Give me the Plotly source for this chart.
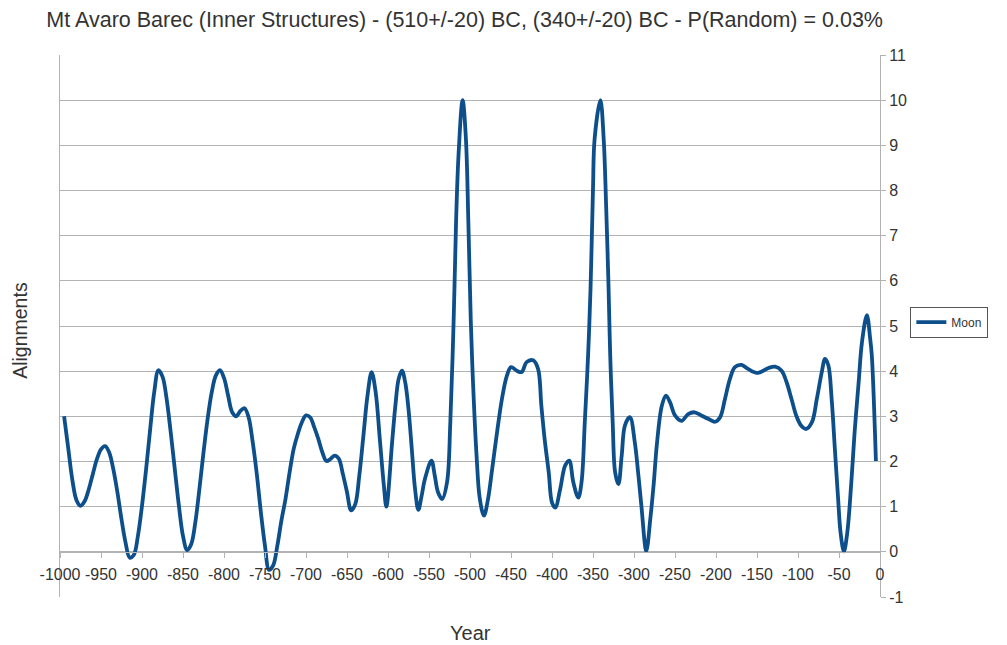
import plotly.graph_objects as go

# Moon alignments per year (BC as negative years)
years = [
    -995, -990, -985, -980, -975, -970, -965, -960, -955, -950,
    -945, -940, -935, -930, -925, -920, -915, -910, -905, -900,
    -895, -890, -885, -880, -875, -870, -865, -860, -855, -850,
    -845, -840, -835, -830, -825, -820, -815, -810, -805, -800,
    -795, -790, -785, -780, -775, -770, -765, -760, -755, -750,
    -745, -740, -735, -730, -725, -720, -715, -710, -705, -700,
    -695, -690, -685, -680, -675, -670, -665, -660, -655, -650,
    -645, -640, -635, -630, -625, -620, -615, -610, -605, -602,
    -595, -591, -587, -583, -579, -575, -571, -567, -563, -559,
    -555, -547, -543, -539, -534, -528, -524, -520, -517, -514,
    -509, -505, -502, -499, -496, -492, -488, -483, -478, -473,
    -467, -461, -455, -450, -443, -437, -431, -423, -417, -413,
    -409, -404, -400, -396, -390, -384, -379, -374, -368, -364,
    -360, -356, -353, -350, -348, -341, -337, -334, -331, -329,
    -326, -323, -319, -315, -311, -305, -299, -295, -291, -285,
    -280, -276, -272, -266, -261, -256, -250, -242, -234, -226,
    -218, -209, -201, -195, -189, -183, -177, -169, -161, -149,
    -136, -128, -120, -114, -108, -102, -96, -90, -83, -77,
    -71, -67, -63, -59, -55, -51, -48, -44, -40, -35,
    -31, -26, -22, -16, -12, -10, -5,
]
moon = [
    3.0, 2.3, 1.6, 1.15, 1.02, 1.12, 1.38, 1.72, 2.05, 2.27,
    2.34, 2.2, 1.83, 1.32, 0.72, 0.2, -0.13, -0.07, 0.35, 1.02,
    1.83, 2.72, 3.55, 4.02, 3.88, 3.39, 2.65, 1.83, 1.02, 0.35,
    0.04, 0.17, 0.65, 1.39, 2.2, 2.94, 3.53, 3.9, 4.02, 3.85,
    3.46, 3.09, 3.0, 3.12, 3.18, 2.98, 2.43, 1.72, 0.87, 0.13,
    -0.4, -0.3, 0.13, 0.69, 1.17, 1.76, 2.28, 2.61, 2.87, 3.02,
    2.98, 2.76, 2.5, 2.2, 2.01, 2.06, 2.13, 2.06, 1.72, 1.32,
    0.92, 1.05, 1.69, 2.57, 3.46, 3.98, 3.53, 2.5, 1.46, 1.0,
    2.42, 3.24, 3.83, 4.01, 3.75, 3.16, 2.28, 1.39, 0.93, 1.24,
    1.61, 2.02, 1.69, 1.32, 1.17, 1.54, 2.87, 5.09, 7.3, 8.78,
    10.0, 9.15, 7.3, 5.09, 3.61, 2.13, 1.17, 0.8, 1.17, 1.83,
    2.65, 3.39, 3.9, 4.09, 4.01, 3.98, 4.2, 4.24, 4.05, 3.24,
    2.5, 1.76, 1.09, 0.98, 1.39, 1.91, 2.02, 1.54, 1.2, 1.54,
    2.87, 4.35, 5.83, 8.04, 9.15, 10.0, 9.15, 7.67, 5.83, 4.35,
    2.87, 1.76, 1.5, 2.13, 2.8, 2.98, 2.42, 1.76, 1.02, 0.02,
    0.75, 1.5, 2.4, 3.24, 3.46, 3.31, 3.02, 2.9, 3.05, 3.09,
    3.02, 2.94, 2.88, 2.98, 3.39, 3.83, 4.09, 4.14, 4.05, 3.96,
    4.07, 4.1, 4.01, 3.76, 3.39, 3.01, 2.79, 2.72, 2.87, 3.39,
    3.98, 4.27, 4.13, 3.39, 2.27, 1.15, 0.41, 0.01, 0.41, 1.53,
    2.64, 3.76, 4.64, 5.24, 4.72, 4.35, 2.01,
]

x_ticks = list(range(-1000, 1, 50))
x_tick_text = [str(v) for v in x_ticks]
y_ticks = list(range(-1, 12))
y_tick_text = [str(v) for v in y_ticks]

title_text = "Mt Avaro Barec (Inner Structures) - (510+/-20) BC, (340+/-20) BC - P(Random) = 0.03%"

FONT = "Liberation Sans, Arial, sans-serif"
GRID = "#b3b3b3"
TEXT = "#333333"

fig = go.Figure()
fig.add_trace(go.Scatter(
    x=years, y=moon, name="Moon", mode="lines",
    line=dict(color="#0d4f8b", width=3.8, shape="spline", smoothing=1.0),
))

fig.update_layout(
    width=1007, height=645,
    margin=dict(l=60, r=127, t=55, b=48),
    paper_bgcolor="white", plot_bgcolor="white",
    font=dict(family=FONT, color=TEXT, size=16),
    title=dict(text=title_text, x=0.046, xref="container", xanchor="left",
               y=1 - 19 / 645, yref="container", yanchor="middle",
               font=dict(family=FONT, size=21.5, color=TEXT)),
    showlegend=True,
    legend=dict(x=1.037, y=0.507, xanchor="left", yanchor="middle",
                bordercolor="#555555", borderwidth=1, bgcolor="white",
                font=dict(family=FONT, size=12, color=TEXT),
                itemwidth=30, tracegroupgap=0),
    xaxis=dict(range=[-1000, 0], tickvals=x_ticks, ticktext=x_tick_text,
               anchor="free", position=1 / 12,
               showgrid=False, zeroline=False, showline=True,
               linecolor=GRID, linewidth=1,
               ticks="outside", ticklen=5, tickcolor=GRID,
               ticklabelstandoff=3,
               tickfont=dict(family=FONT, size=16, color=TEXT)),
    yaxis=dict(range=[-1, 11], tickvals=y_ticks, ticktext=y_tick_text,
               side="right", showgrid=True, gridcolor=GRID, gridwidth=1,
               zeroline=False, showline=True, mirror=True,
               linecolor=GRID, linewidth=1,
               ticks="outside", ticklen=5, tickcolor=GRID,
               tickfont=dict(family=FONT, size=16, color=TEXT)),
    annotations=[
        dict(text="Alignments", textangle=-90, x=-0.049, y=0.4926,
             xref="paper", yref="paper", xanchor="center", yanchor="middle",
             showarrow=False, font=dict(family=FONT, size=19.5, color=TEXT)),
        dict(text="Year", x=0.501, y=-0.066, xref="paper", yref="paper",
             xanchor="center", yanchor="middle", showarrow=False,
             font=dict(family=FONT, size=20, color=TEXT)),
    ],
)

fig.write_html("out.html")
